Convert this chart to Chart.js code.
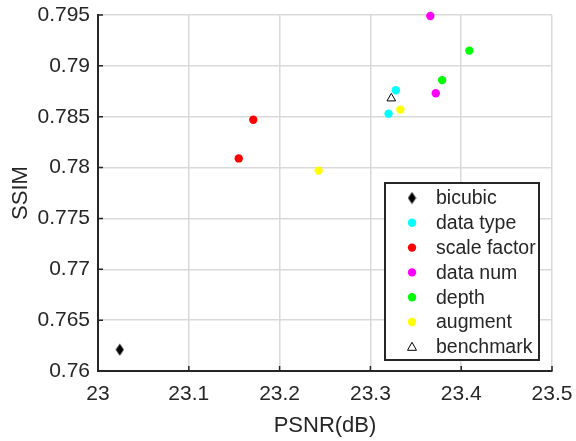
<!DOCTYPE html>
<html>
<head>
<meta charset="utf-8">
<script src="https://cdn.jsdelivr.net/npm/chart.js@4.4.1/dist/chart.umd.min.js"></script>
<style>
  html, body { margin: 0; padding: 0; background: #fff; }
  #wrap { width: 576px; height: 441px; position: relative; }
</style>
</head>
<body>
<div id="wrap"><canvas id="chart"></canvas></div>
<script>
// Series data (PSNR in dB, SSIM)
const seriesNames = ['bicubic', 'data type', 'scale factor', 'data num', 'depth', 'augment', 'benchmark'];
const bicubicPts   = [{x: 23.024, y: 0.7621}];
const dataTypePts  = [{x: 23.328, y: 0.7876}, {x: 23.320, y: 0.7853}];
const scalePts     = [{x: 23.171, y: 0.7847}, {x: 23.155, y: 0.7809}];
const dataNumPts   = [{x: 23.366, y: 0.7949}, {x: 23.372, y: 0.7873}];
const depthPts     = [{x: 23.409, y: 0.7915}, {x: 23.379, y: 0.7886}];
const augmentPts   = [{x: 23.333, y: 0.7857}, {x: 23.243, y: 0.7797}];
const benchPts     = [{x: 23.323, y: 0.7868}];

const xTicks = [23, 23.1, 23.2, 23.3, 23.4, 23.5];
const yTicks = [0.76, 0.765, 0.77, 0.775, 0.78, 0.785, 0.79, 0.795];

const textColor = '#262626';
const gridColor = '#d9d9d9';
const fontFamily = '"Liberation Sans", Arial, sans-serif';

// tall diamond like matlab's 'd' marker
function makeDiamond() {
    const c = document.createElement('canvas');
    c.width = 9; c.height = 13;
    const g = c.getContext('2d');
    g.fillStyle = '#000';
    g.beginPath();
    g.moveTo(4.5, 0.5);
    g.lineTo(8.5, 6.5);
    g.lineTo(4.5, 12.5);
    g.lineTo(0.5, 6.5);
    g.closePath();
    g.fill();
    return c;
}
const diamond = makeDiamond();

const styles = [
    {pointStyle: diamond, color: '#000000'},
    {pointStyle: 'circle', color: '#00ffff'},
    {pointStyle: 'circle', color: '#ff0000'},
    {pointStyle: 'circle', color: '#ff00ff'},
    {pointStyle: 'circle', color: '#00ff00'},
    {pointStyle: 'circle', color: '#ffff00'},
    {pointStyle: 'triangle', color: '#000000'}
];
const allPts = [bicubicPts, dataTypePts, scalePts, dataNumPts, depthPts, augmentPts, benchPts];

const datasets = allPts.map((pts, i) => {
    const st = styles[i];
    const isTri = st.pointStyle === 'triangle';
    return {
        label: seriesNames[i],
        data: pts,
        pointStyle: st.pointStyle,
        pointRadius: isTri ? 5 : 4.2,
        pointBackgroundColor: isTri ? '#ffffff' : st.color,
        pointBorderColor: st.color,
        pointBorderWidth: isTri ? 1 : 0,
        clip: false
    };
});

// draw a marker for the legend
function drawMarker(ctx, i, x, y) {
    const st = styles[i];
    ctx.save();
    if (st.pointStyle === 'circle') {
        ctx.fillStyle = st.color;
        ctx.beginPath();
        ctx.arc(x, y, 4.2, 0, Math.PI * 2);
        ctx.fill();
    } else if (st.pointStyle === 'triangle') {
        ctx.strokeStyle = '#000';
        ctx.fillStyle = '#fff';
        ctx.lineWidth = 1;
        ctx.beginPath();
        ctx.moveTo(x, y - 4.5);
        ctx.lineTo(x + 4.5, y + 3.5);
        ctx.lineTo(x - 4.5, y + 3.5);
        ctx.closePath();
        ctx.fill();
        ctx.stroke();
    } else {
        ctx.drawImage(diamond, x - 4.5, y - 6.5);
    }
    ctx.restore();
}

const matlabAxes = {
    id: 'matlabAxes',
    afterDatasetsDraw(chart) {
        const ctx = chart.ctx;
        const xs = chart.scales.x, ys = chart.scales.y;
        const area = chart.chartArea;
        // inward ticks
        ctx.save();
        ctx.strokeStyle = textColor;
        ctx.lineWidth = 1.5;
        ctx.beginPath();
        xTicks.forEach(v => {
            const px = xs.getPixelForValue(v);
            ctx.moveTo(px, area.bottom);
            ctx.lineTo(px, area.bottom - 5);
        });
        yTicks.forEach(v => {
            const py = ys.getPixelForValue(v);
            ctx.moveTo(area.left, py);
            ctx.lineTo(area.left + 5, py);
        });
        ctx.stroke();

        // legend box
        const bx = 385, by = 183, bw = 154, bh = 177;
        ctx.fillStyle = '#fff';
        ctx.fillRect(bx, by, bw, bh);
        ctx.strokeStyle = textColor;
        ctx.lineWidth = 2;
        ctx.strokeRect(bx, by, bw, bh);
        ctx.font = '19.5px ' + fontFamily;
        ctx.fillStyle = textColor;
        ctx.textBaseline = 'middle';
        ctx.textAlign = 'left';
        seriesNames.forEach((name, i) => {
            const cy = 198 + i * 24.8;
            drawMarker(ctx, i, 412, cy);
            ctx.fillText(name, 436, cy + 1);
        });
        ctx.restore();
    }
};

new Chart(document.getElementById('chart'), {
    type: 'scatter',
    data: {datasets: datasets},
    plugins: [matlabAxes],
    options: {
        responsive: true,
        maintainAspectRatio: false,
        animation: false,
        layout: {padding: {top: 15, right: 24, left: 0, bottom: 0}},
        plugins: {
            legend: {display: false},
            tooltip: {enabled: false}
        },
        scales: {
            x: {
                type: 'linear',
                min: 23,
                max: 23.5,
                afterBuildTicks: s => { s.ticks = xTicks.map(v => ({value: v})); },
                afterFit: s => { s.height = 70; s.paddingLeft = 0; s.paddingRight = 0; },
                ticks: {
                    color: textColor,
                    font: {family: fontFamily, size: 21},
                    padding: 11,
                    maxRotation: 0,
                    callback: v => String(v)
                },
                grid: {color: gridColor, lineWidth: 1.5, drawTicks: false},
                border: {display: true, color: textColor, width: 2},
                title: {
                    display: true,
                    text: 'PSNR(dB)',
                    color: textColor,
                    font: {family: fontFamily, size: 22},
                    padding: {top: 0, bottom: 2}
                }
            },
            y: {
                type: 'linear',
                min: 0.76,
                max: 0.795,
                afterBuildTicks: s => { s.ticks = yTicks.map(v => ({value: v})); },
                afterFit: s => { s.width = 98; s.paddingTop = 0; s.paddingBottom = 0; },
                ticks: {
                    color: textColor,
                    font: {family: fontFamily, size: 21},
                    padding: 8,
                    callback: v => String(parseFloat(v.toFixed(3)))
                },
                grid: {color: gridColor, lineWidth: 1.5, drawTicks: false},
                border: {display: true, color: textColor, width: 2},
                title: {
                    display: true,
                    text: 'SSIM',
                    color: textColor,
                    font: {family: fontFamily, size: 22},
                    padding: {top: 8, bottom: 0}
                }
            }
        }
    }
});
</script>
</body>
</html>
